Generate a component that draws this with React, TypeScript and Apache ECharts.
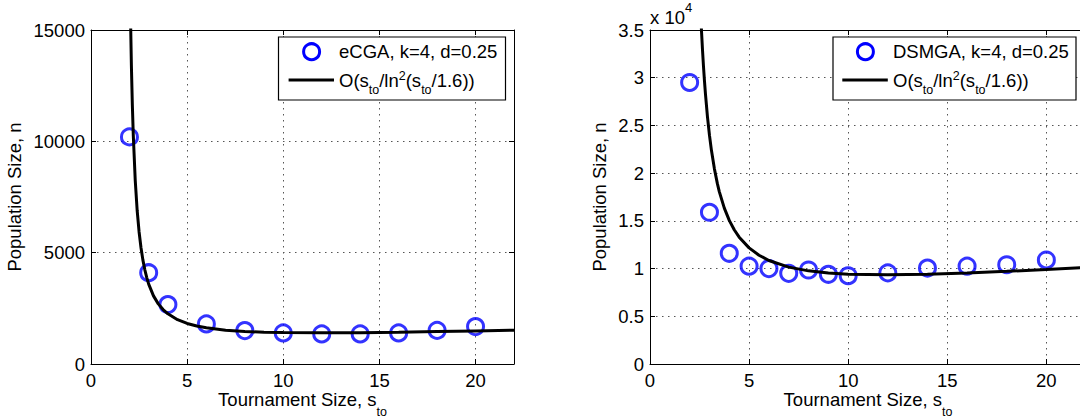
import React, { useEffect, useRef } from "react";
import * as echarts from "echarts";

// ---------- data ----------
const xTickValues = [0, 5, 10, 15, 20];

// left panel: eCGA
const ecgaX = [2, 3, 4, 6, 8, 10, 12, 14, 16, 18, 20];
const ecgaN = [10200, 4100, 2670, 1800, 1500, 1395, 1350, 1350, 1395, 1510, 1680];
const leftCurveX = [2.05, 2.1, 2.15, 2.2, 2.3, 2.4, 2.5, 2.6, 2.7, 2.8, 2.9, 3, 3.25, 3.5, 3.75, 4, 4.5, 5, 5.5, 6, 7, 8, 9, 10, 12, 14, 16, 18, 20, 22];
const leftCurveN = [15800, 13430, 11650, 10260, 8260, 6905, 5940, 5220, 4665, 4230, 3880, 3590, 3060, 2700, 2445, 2255, 1990, 1820, 1705, 1625, 1520, 1460, 1425, 1410, 1400, 1405, 1425, 1455, 1485, 1515];

// right panel: DSMGA
const dsmgaX = [2, 3, 4, 5, 6, 7, 8, 9, 10, 12, 14, 16, 18, 20];
const dsmgaN = [29500, 15900, 11600, 10250, 10000, 9500, 9850, 9400, 9250, 9550, 10050, 10250, 10400, 10900];
const rightCurveX = [2.58, 2.6, 2.65, 2.7, 2.75, 2.8, 2.9, 3, 3.1, 3.25, 3.4, 3.5, 3.75, 4, 4.25, 4.5, 5, 5.5, 6, 7, 8, 9, 10, 12, 14, 16, 18, 20, 22];
const rightCurveN = [35700, 34840, 32880, 31150, 29620, 28250, 25900, 23980, 22390, 20450, 18900, 18040, 16330, 15050, 14070, 13290, 12170, 11400, 10850, 10150, 9760, 9530, 9410, 9340, 9400, 9530, 9710, 9900, 10120];

const leftLegend = ["eCGA, k=4, d=0.25", "O(s_to/ln^2(s_to/1.6))"];
const rightLegend = ["DSMGA, k=4, d=0.25", "O(s_to/ln^2(s_to/1.6))"];

const FONT = "'Liberation Sans', Arial, Helvetica, sans-serif";
const FS = 18.5;

const zip = (xs: number[], ys: number[]) => xs.map((x, i) => [x, ys[i]]);

function xAxisPair(gridIndex: number) {
  const common = {
    type: "value",
    gridIndex,
    min: 0,
    max: 22,
    interval: 5,
    axisLine: { show: true, onZero: false, lineStyle: { color: "#000", width: 1 } },
    axisTick: { show: true, inside: true, length: 5, lineStyle: { color: "#000" } },
  };
  return [
    {
      ...common,
      position: "bottom",
      axisLabel: {
        show: true,
        margin: 8,
        lineHeight: 16,
        fontFamily: FONT,
        fontSize: FS,
        color: "#000",
        formatter: (v: number) => (xTickValues.includes(v) ? String(v) : ""),
      },
      splitLine: { show: true, lineStyle: { color: "#555", type: [1.5, 4.5], width: 1 } },
      name: "{m|Tournament Size, s}{s|to}",
      nameLocation: "middle",
      nameGap: 26,
      nameMoveOverlap: false,
      nameTextStyle: {
        fontFamily: FONT,
        color: "#000",
        rich: {
          m: { fontFamily: FONT, fontSize: FS, color: "#000", verticalAlign: "top" },
          s: { fontFamily: FONT, fontSize: 12.5, color: "#000", verticalAlign: "top", padding: [15, 0, 0, 0] },
        },
      },
    },
    { ...common, position: "top", axisLabel: { show: false }, splitLine: { show: false } },
  ];
}

function yAxisPair(gridIndex: number, max: number, nameGap: number, fmt: (v: number) => string) {
  const common = {
    type: "value",
    gridIndex,
    min: 0,
    max,
    interval: 5000,
    axisLine: { show: true, onZero: false, lineStyle: { color: "#000", width: 1 } },
    axisTick: { show: true, inside: true, length: 5, lineStyle: { color: "#000" } },
  };
  return [
    {
      ...common,
      position: "left",
      axisLabel: { show: true, margin: 6, fontFamily: FONT, fontSize: FS, color: "#000", formatter: fmt },
      splitLine: { show: true, lineStyle: { color: "#555", type: [1.5, 4.5], width: 1 } },
      name: "Population Size, n",
      nameLocation: "middle",
      nameGap,
      nameMoveOverlap: false,
      nameTextStyle: { fontFamily: FONT, fontSize: FS, color: "#000" },
    },
    { ...common, position: "right", axisLabel: { show: false }, splitLine: { show: false } },
  ];
}

const legendRich = {
  m: { fontFamily: FONT, fontSize: FS, fill: "#000", color: "#000", verticalAlign: "top", padding: [1.5, 0, 0, 0] },
  s: { fontFamily: FONT, fontSize: 12.5, fill: "#000", color: "#000", verticalAlign: "top", padding: [14.5, 0, 0, 0] },
  p: { fontFamily: FONT, fontSize: 12.5, fill: "#000", color: "#000", verticalAlign: "top" },
};

function formulaRich(s: string) {
  // converts "O(s_to/ln^2(s_to/1.6))" into rich tokens
  return s
    .replace(/_to/g, "}{s|to}{m|")
    .replace(/\^2/g, "}{p|2}{m|")
    .replace(/^/, "{m|")
    .concat("}")
    .replace(/\{m\|\}/g, "");
}

function legendGraphics(bx: number, bw: number, circleX: number, lineX1: number, lineX2: number, textX: number, labels: string[]) {
  return [
    { type: "rect", z: 100, shape: { x: bx, y: 37, width: bw, height: 63 }, style: { fill: "#fff", stroke: "#000", lineWidth: 1.2 } },
    { type: "circle", z: 101, shape: { cx: circleX, cy: 51.7, r: 8 }, style: { fill: "none", stroke: "#0000ff", lineWidth: 3 } },
    { type: "line", z: 101, shape: { x1: lineX1, y1: 80, x2: lineX2, y2: 80 }, style: { stroke: "#000", lineWidth: 3 } },
    {
      type: "text", z: 101, x: textX, y: 51.1,
      style: { text: labels[0], fontFamily: FONT, fontSize: FS, fill: "#000", verticalAlign: "middle", align: "left" },
    },
    {
      type: "text", z: 101, x: textX, y: 69.3,
      style: { text: formulaRich(labels[1]), rich: legendRich, fontFamily: FONT, fontSize: FS, fill: "#000", verticalAlign: "top", align: "left" },
    },
  ];
}

export default function App() {
  const ref = useRef<HTMLDivElement>(null);
  useEffect(() => {
    document.body.style.margin = "0";
    const chart = echarts.init(ref.current!, undefined, { renderer: "svg" });
    const option = {
      animation: false,
      backgroundColor: "#fff",
      textStyle: { fontFamily: FONT },
      grid: [
        { left: 91, top: 30, width: 423, height: 334, containLabel: false, outerBoundsMode: "none" },
        { left: 650, top: 30, width: 436, height: 334, containLabel: false, outerBoundsMode: "none" },
      ],
      xAxis: [...xAxisPair(0), ...xAxisPair(1)],
      yAxis: [
        ...yAxisPair(0, 15000, 67, (v: number) => String(v)),
        ...yAxisPair(1, 35000, 41, (v: number) => String(v / 10000)),
      ],
      series: [
        {
          type: "scatter", name: leftLegend[0], xAxisIndex: 0, yAxisIndex: 0, z: 3,
          data: zip(ecgaX, ecgaN), symbol: "circle", symbolSize: 16,
          itemStyle: { color: "rgba(0,0,0,0)", borderColor: "#0000ff", borderWidth: 3 },
        },
        {
          type: "line", name: "curveL", xAxisIndex: 0, yAxisIndex: 0, z: 4,
          data: zip(leftCurveX, leftCurveN), showSymbol: false, symbol: "none", clip: true,
          lineStyle: { color: "#000", width: 3 },
        },
        {
          type: "scatter", name: rightLegend[0], xAxisIndex: 2, yAxisIndex: 2, z: 3,
          data: zip(dsmgaX, dsmgaN), symbol: "circle", symbolSize: 16,
          itemStyle: { color: "rgba(0,0,0,0)", borderColor: "#0000ff", borderWidth: 3 },
        },
        {
          type: "line", name: "curveR", xAxisIndex: 2, yAxisIndex: 2, z: 4,
          data: zip(rightCurveX, rightCurveN), showSymbol: false, symbol: "none", clip: true,
          lineStyle: { color: "#000", width: 3 },
        },
      ],
      graphic: [
        ...legendGraphics(278.5, 227, 311.6, 288.6, 334, 339, leftLegend),
        ...legendGraphics(833, 243, 865.4, 842.3, 887.8, 893, rightLegend),
        {
          type: "text", z: 101, x: 650, y: 1,
          style: {
            text: "{m|x 10}{p|4}",
            verticalAlign: "top",
            align: "left",
            rich: {
              m: { fontFamily: FONT, fontSize: FS, fill: "#000", color: "#000", verticalAlign: "top", padding: [7, 0, 0, 0] },
              p: { fontFamily: FONT, fontSize: 13, fill: "#000", color: "#000", verticalAlign: "top" },
            },
          },
        },
      ],
    };
    chart.setOption(option as any);
    return () => chart.dispose();
  }, []);
  return <div ref={ref} style={{ width: 1080, height: 419, overflow: "hidden", background: "#fff" }} />;
}
